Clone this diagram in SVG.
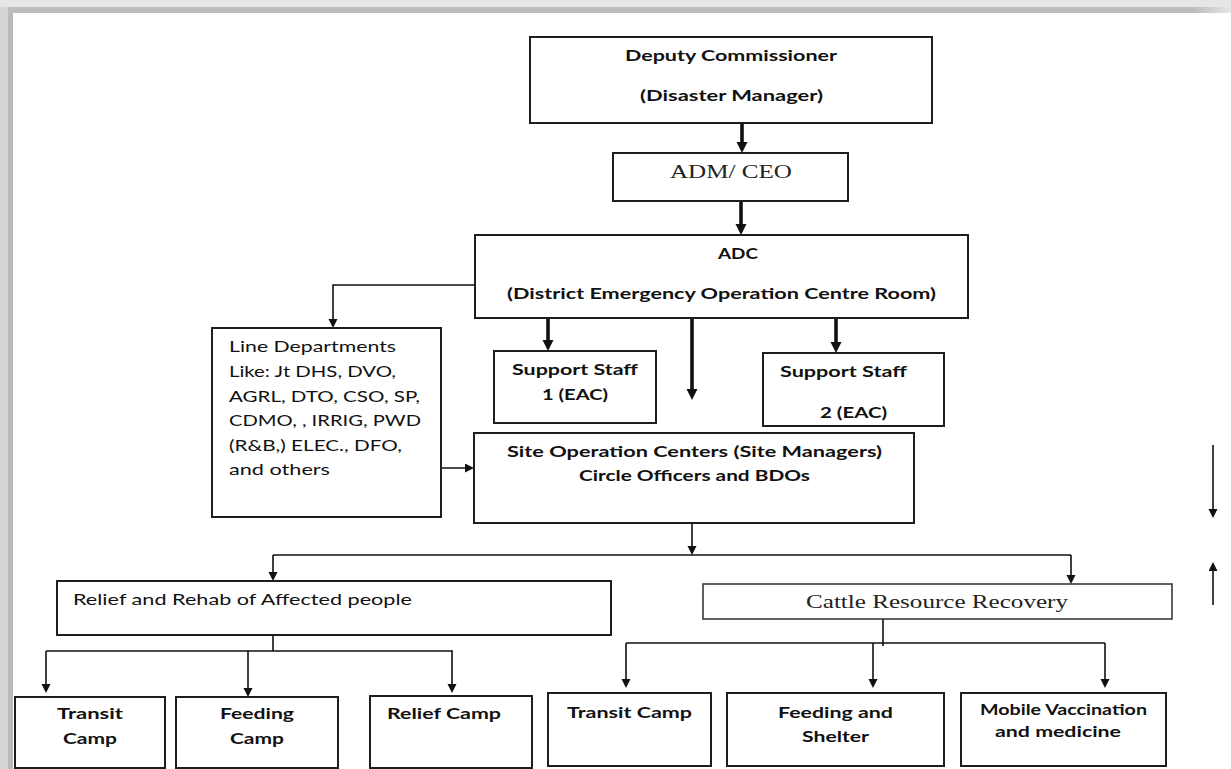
<svg xmlns="http://www.w3.org/2000/svg" width="1231" height="769" viewBox="0 0 1231 769">
  <defs>
    <style>
      .box { fill: #ffffff; stroke: #1e1e1e; stroke-width: 2; }
      .box-thin { fill: #ffffff; stroke: #3a3a3a; stroke-width: 1.6; }
      .t { font-family: Lato, "Open Sans", sans-serif; fill: #111; }
      .b { font-weight: bold; }
      .serif { font-family: "Liberation Serif", "Times New Roman", serif; fill: #222; }
      .thin { fill: none; stroke: #111; stroke-width: 1.6; }
      .thick { fill: none; stroke: #111; stroke-width: 3.6; }
    </style>
    <marker id="head" markerUnits="userSpaceOnUse" markerWidth="10" markerHeight="10" refX="3" refY="4.5" orient="auto">
      <path d="M0,0 L9,4.5 L0,9 z" fill="#111"/>
    </marker>
    <marker id="head-bold" markerUnits="userSpaceOnUse" markerWidth="12" markerHeight="12" refX="3" refY="5.5" orient="auto">
      <path d="M0,0 L11,5.5 L0,11 z" fill="#111"/>
    </marker>
    <linearGradient id="topFade" x1="0" y1="0" x2="1" y2="0">
      <stop offset="0.97" stop-color="#bdbdbd"/>
      <stop offset="1" stop-color="#e6e6e6"/>
    </linearGradient>
  </defs>

  <!-- page background and frame shading -->
  <rect x="0" y="0" width="1231" height="769" fill="#ffffff"/>
  <rect x="0" y="0" width="1231" height="7" fill="#e6e6e6"/>
  <rect x="0" y="7" width="1231" height="6" fill="url(#topFade)"/>
  <rect x="0" y="7" width="8" height="762" fill="#d6d6d6"/>
  <rect x="8" y="13" width="5" height="756" fill="#bababa"/>

  <!-- connectors -->
  <g id="connectors">
    <!-- bold chain of command -->
    <line class="thick" x1="742" y1="123" x2="742" y2="145" marker-end="url(#head-bold)"/>
    <line class="thick" x1="741" y1="201" x2="741" y2="227" marker-end="url(#head-bold)"/>
    <line class="thick" x1="548" y1="318" x2="548" y2="343" marker-end="url(#head-bold)"/>
    <line class="thick" x1="692" y1="318" x2="692" y2="392" marker-end="url(#head-bold)"/>
    <line class="thick" x1="836" y1="318" x2="836" y2="345" marker-end="url(#head-bold)"/>

    <!-- ADC to line departments -->
    <path class="thin" d="M475,285 H333 V322" marker-end="url(#head)"/>
    <!-- line departments to site operation centres -->
    <line class="thin" x1="403" y1="468" x2="468" y2="468" marker-end="url(#head)"/>

    <!-- site operation centres to the two branches -->
    <line class="thin" x1="692" y1="523" x2="692" y2="549" marker-end="url(#head)"/>
    <path class="thin" d="M273,555 H1071"/>
    <line class="thin" x1="273" y1="555" x2="273" y2="575" marker-end="url(#head)"/>
    <line class="thin" x1="1071" y1="555" x2="1071" y2="578" marker-end="url(#head)"/>

    <!-- relief and rehab branch -->
    <path class="thin" d="M273,613 V651 M46,651 H453"/>
    <line class="thin" x1="46" y1="651" x2="46" y2="687" marker-end="url(#head)"/>
    <line class="thin" x1="248" y1="651" x2="248" y2="691" marker-end="url(#head)"/>
    <line class="thin" x1="452" y1="651" x2="452" y2="687" marker-end="url(#head)"/>

    <!-- cattle resource branch -->
    <path class="thin" d="M883,619 V646 M626,643 H1105"/>
    <line class="thin" x1="626" y1="643" x2="626" y2="682" marker-end="url(#head)"/>
    <line class="thin" x1="873" y1="643" x2="873" y2="682" marker-end="url(#head)"/>
    <line class="thin" x1="1105" y1="643" x2="1105" y2="682" marker-end="url(#head)"/>

    <!-- flow direction key -->
    <line class="thin" x1="1213" y1="445" x2="1213" y2="512" marker-end="url(#head)"/>
    <line class="thin" x1="1213" y1="605" x2="1213" y2="568" marker-end="url(#head)"/>
  </g>

  <g id="deputy-commissioner">
    <rect class="box" x="530" y="37" width="402" height="86"/>
    <text class="t b" x="625" y="61" font-size="15.5" textLength="212" lengthAdjust="spacingAndGlyphs">Deputy Commissioner</text>
    <text class="t b" x="640" y="101" font-size="15.5" textLength="183" lengthAdjust="spacingAndGlyphs">(Disaster Manager)</text>
  </g>

  <g id="adm-ceo">
    <rect class="box" x="613" y="153" width="235" height="48"/>
    <text class="serif" x="670" y="178" font-size="19" textLength="122" lengthAdjust="spacingAndGlyphs">ADM/ CEO</text>
  </g>

  <g id="adc">
    <rect class="box" x="475" y="235" width="493" height="83"/>
    <text class="t b" x="718" y="259" font-size="15.5" textLength="40" lengthAdjust="spacingAndGlyphs">ADC</text>
    <text class="t b" x="507" y="299" font-size="15.5" textLength="429" lengthAdjust="spacingAndGlyphs">(District Emergency Operation Centre Room)</text>
  </g>

  <g id="line-departments">
    <rect class="box" x="212" y="328" width="229" height="189"/>
    <text class="t" font-size="16">
      <tspan x="229" y="352" textLength="167" lengthAdjust="spacingAndGlyphs">Line Departments</tspan>
      <tspan x="229" y="377" textLength="167" lengthAdjust="spacingAndGlyphs">Like: Jt DHS, DVO,</tspan>
      <tspan x="229" y="402" textLength="191" lengthAdjust="spacingAndGlyphs">AGRL, DTO, CSO, SP,</tspan>
      <tspan x="229" y="426" textLength="192" lengthAdjust="spacingAndGlyphs">CDMO, , IRRIG, PWD</tspan>
      <tspan x="229" y="451" textLength="173" lengthAdjust="spacingAndGlyphs">(R&amp;B,) ELEC., DFO,</tspan>
      <tspan x="229" y="475" textLength="101" lengthAdjust="spacingAndGlyphs">and others</tspan>
    </text>
  </g>

  <g id="support-staff-1">
    <rect class="box" x="494" y="351" width="162" height="72"/>
    <text class="t b" x="512" y="375" font-size="15.5" textLength="126" lengthAdjust="spacingAndGlyphs">Support Staff</text>
    <text class="t b" x="542" y="400" font-size="15.5" textLength="66" lengthAdjust="spacingAndGlyphs">1 (EAC)</text>
  </g>

  <g id="support-staff-2">
    <rect class="box" x="763" y="353" width="181" height="73"/>
    <text class="t b" x="780" y="377" font-size="15.5" textLength="127" lengthAdjust="spacingAndGlyphs">Support Staff</text>
    <text class="t b" x="820" y="418" font-size="15.5" textLength="67" lengthAdjust="spacingAndGlyphs">2 (EAC)</text>
  </g>

  <g id="site-operation-centres">
    <rect class="box" x="474" y="433" width="440" height="90"/>
    <text class="t b" x="507" y="457" font-size="15.5" textLength="375" lengthAdjust="spacingAndGlyphs">Site Operation Centers (Site Managers)</text>
    <text class="t b" x="579" y="481" font-size="15.5" textLength="231" lengthAdjust="spacingAndGlyphs">Circle Officers and BDOs</text>
  </g>

  <g id="relief-rehab">
    <rect class="box" x="57" y="581" width="554" height="54"/>
    <text class="t" x="73" y="605" font-size="16" textLength="339" lengthAdjust="spacingAndGlyphs">Relief and Rehab of Affected people</text>
  </g>

  <g id="cattle-recovery">
    <rect class="box-thin" x="703" y="584" width="469" height="35"/>
    <text class="serif" x="806" y="608" font-size="19" textLength="262" lengthAdjust="spacingAndGlyphs">Cattle Resource Recovery</text>
  </g>

  <g id="transit-camp-people">
    <rect class="box" x="15" y="697" width="150" height="71"/>
    <text class="t b" x="57" y="719" font-size="15.5" textLength="66" lengthAdjust="spacingAndGlyphs">Transit</text>
    <text class="t b" x="63" y="744" font-size="15.5" textLength="54" lengthAdjust="spacingAndGlyphs">Camp</text>
  </g>

  <g id="feeding-camp">
    <rect class="box" x="176" y="697" width="162" height="71"/>
    <text class="t b" x="220" y="719" font-size="15.5" textLength="74" lengthAdjust="spacingAndGlyphs">Feeding</text>
    <text class="t b" x="230" y="744" font-size="15.5" textLength="54" lengthAdjust="spacingAndGlyphs">Camp</text>
  </g>

  <g id="relief-camp">
    <rect class="box" x="370" y="696" width="162" height="72"/>
    <text class="t b" x="387" y="719" font-size="15.5" textLength="114" lengthAdjust="spacingAndGlyphs">Relief Camp</text>
  </g>

  <g id="transit-camp-cattle">
    <rect class="box" x="548" y="693" width="163" height="73"/>
    <text class="t b" x="567" y="718" font-size="15.5" textLength="125" lengthAdjust="spacingAndGlyphs">Transit Camp</text>
  </g>

  <g id="feeding-shelter">
    <rect class="box" x="727" y="693" width="217" height="73"/>
    <text class="t b" x="778" y="718" font-size="15.5" textLength="115" lengthAdjust="spacingAndGlyphs">Feeding and</text>
    <text class="t b" x="802" y="742" font-size="15.5" textLength="67" lengthAdjust="spacingAndGlyphs">Shelter</text>
  </g>

  <g id="mobile-vaccination">
    <rect class="box" x="961" y="693" width="205" height="73"/>
    <text class="t b" x="980" y="715" font-size="14.5" textLength="167" lengthAdjust="spacingAndGlyphs">Mobile Vaccination</text>
    <text class="t b" x="995" y="737" font-size="14.5" textLength="126" lengthAdjust="spacingAndGlyphs">and medicine</text>
  </g>
</svg>
